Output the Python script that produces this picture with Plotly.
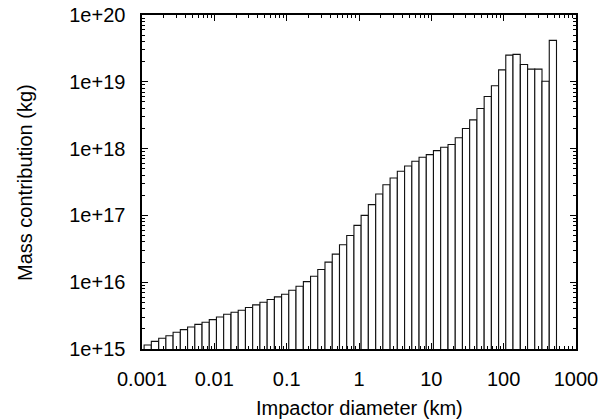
import math
import plotly.graph_objects as go

# Bin centres (km) (10 log bins per decade)
diameter_km = [
    0.00120, 0.00151, 0.00191, 0.00240, 0.00302, 0.00380, 0.00479, 0.00603, 0.00759, 0.00955,
    0.0120, 0.0151, 0.0191, 0.0240, 0.0302, 0.0380, 0.0479, 0.0603, 0.0759, 0.0955,
    0.120, 0.151, 0.191, 0.240, 0.302, 0.380, 0.479, 0.603, 0.759, 0.955,
    1.20, 1.51, 1.91, 2.40, 3.02, 3.80, 4.79, 6.03, 7.59, 9.55,
    12.0, 15.1, 19.1, 24.0, 30.2, 38.0, 47.9, 60.3, 75.9, 95.5,
    120.0, 151.0, 191.0, 240.0, 302.0, 380.0, 479.0,
]

# Mass contribution per bin (kg)
mass_kg = [
    1.15e15, 1.30e15, 1.45e15, 1.58e15, 1.78e15, 1.95e15, 2.14e15, 2.34e15, 2.51e15, 2.75e15,
    3.02e15, 3.31e15, 3.55e15, 3.80e15, 4.17e15, 4.57e15, 5.01e15, 5.50e15, 6.03e15, 6.61e15,
    7.59e15, 8.71e15, 1.02e16, 1.23e16, 1.55e16, 2.00e16, 2.63e16, 3.63e16, 5.01e16, 7.08e16,
    1.00e17, 1.45e17, 2.09e17, 2.88e17, 3.63e17, 4.57e17, 5.50e17, 6.46e17, 7.41e17, 8.13e17,
    9.33e17, 1.05e18, 1.15e18, 1.45e18, 2.00e18, 2.69e18, 3.98e18, 6.03e18, 8.71e18, 1.51e19,
    2.51e19, 2.57e19, 1.82e19, 1.55e19, 1.55e19, 1.02e19, 4.17e19,
]

bin_width_dex = 0.1

x_ticks = [0.001, 0.01, 0.1, 1, 10, 100, 1000]
x_tick_labels = ["0.001", "0.01", "0.1", "1", "10", "100", "1000"]
y_ticks = [1e15, 1e16, 1e17, 1e18, 1e19, 1e20]
y_tick_labels = ["1e+15", "1e+16", "1e+17", "1e+18", "1e+19", "1e+20"]
x_title = "Impactor diameter (km)"
y_title = "Mass contribution (kg)"

FONT = "Liberation Sans, Arial, Helvetica, sans-serif"

log_d = [math.log10(d) for d in diameter_km]
x_range = [math.log10(x_ticks[0]), math.log10(x_ticks[-1])]
y_range = [math.log10(y_ticks[0]), math.log10(y_ticks[-1])]

fig = go.Figure()
fig.add_trace(go.Bar(
    x=log_d, y=mass_kg, width=bin_width_dex,
    marker=dict(color="white", line=dict(color="#111111", width=1.1)),
    xaxis="x", yaxis="y", showlegend=False, hoverinfo="skip",
))
# invisible helper trace so the log-scaled tick axis is drawn
fig.add_trace(go.Scatter(
    x=[x_ticks[0], x_ticks[-1]], y=[y_ticks[0], y_ticks[0]],
    mode="markers", marker=dict(opacity=0),
    xaxis="x2", yaxis="y", showlegend=False, hoverinfo="skip",
))

minor_ticks = dict(ticks="inside", ticklen=3, tickwidth=1, tickcolor="black",
                   dtick="D1", showgrid=False)

fig.update_layout(
    template="none",
    width=611, height=419,
    margin=dict(l=142, r=35, t=15, b=70),
    paper_bgcolor="white", plot_bgcolor="white",
    font=dict(family=FONT, size=20, color="black"),
    bargap=0,
    hovermode=False,
    xaxis=dict(type="linear", range=x_range, visible=False, fixedrange=True),
    xaxis2=dict(
        type="log", range=x_range, overlaying="x", side="bottom",
        tickvals=x_ticks, ticktext=x_tick_labels,
        ticks="inside", ticklen=6, tickwidth=1, tickcolor="black",
        minor=minor_ticks,
        showline=True, linecolor="black", linewidth=1.6, mirror="ticks",
        showgrid=False, zeroline=False, ticklabelstandoff=11, automargin=False,
    ),
    yaxis=dict(
        type="log", range=y_range,
        tickvals=y_ticks, ticktext=y_tick_labels,
        ticks="inside", ticklen=6, tickwidth=1, tickcolor="black",
        minor=minor_ticks,
        showline=True, linecolor="black", linewidth=1.6, mirror="ticks",
        showgrid=False, zeroline=False, ticklabelstandoff=11, automargin=False,
    ),
    annotations=[
        dict(text=x_title, xref="paper", yref="paper", x=0.5, y=-0.1766,
             xanchor="center", yanchor="middle", showarrow=False,
             font=dict(size=20, family=FONT, color="black")),
        dict(text=y_title, xref="paper", yref="paper", x=-0.2696, y=0.5,
             xanchor="center", yanchor="middle", showarrow=False, textangle=-90,
             font=dict(size=20, family=FONT, color="black")),
    ],
)

# remove the browser's default 8px page margin so the figure sits at the window origin
fig.write_html(
    "out.html",
    config={"displayModeBar": False, "staticPlot": True},
    post_script="document.body.style.margin='0px';document.documentElement.style.overflow='hidden';",
)
